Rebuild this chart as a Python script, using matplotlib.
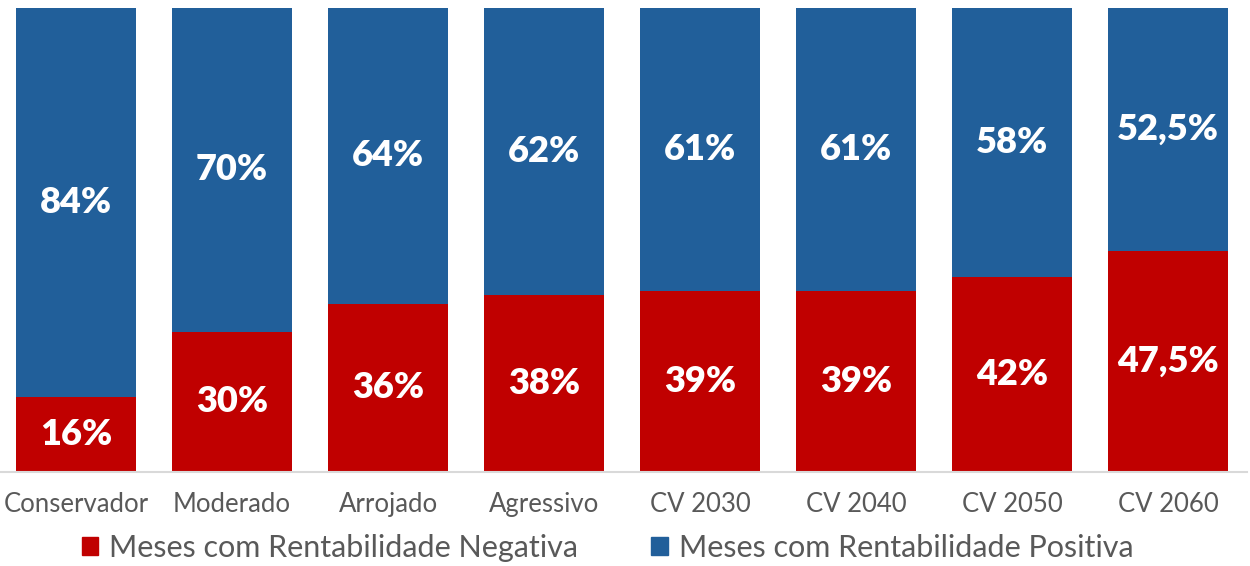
import matplotlib
matplotlib.use("Agg")
import matplotlib.pyplot as plt
from matplotlib.patches import Patch
import numpy as np

categories = ["Conservador", "Moderado", "Arrojado", "Agressivo", "CV 2030", "CV 2040", "CV 2050", "CV 2060"]
negativa = [16, 30, 36, 38, 39, 39, 42, 47.5]
positiva = [84, 70, 64, 62, 61, 61, 58, 52.5]
neg_labels = ["16%", "30%", "36%", "38%", "39%", "39%", "42%", "47,5%"]
pos_labels = ["84%", "70%", "64%", "62%", "61%", "61%", "58%", "52,5%"]
series_names = ["Meses com Rentabilidade Negativa", "Meses com Rentabilidade Positiva"]

RED = "#C00000"
BLUE = "#215F9A"
GRAY = "#595959"

plt.rcParams['font.family'] = ['Lato', 'DejaVu Sans']

fig = plt.figure(figsize=(12.5, 5.66), dpi=100)
W, H = 1250, 566
ax = fig.add_axes([0, (H - 471.5) / H, 1247 / W, (471.5 - 7.5) / H])

x = np.arange(len(categories))
width = 0.77
ax.bar(x, negativa, width, color=RED, label=series_names[0])
ax.bar(x, positiva, width, bottom=negativa, color=BLUE, label=series_names[1])

for i in range(len(categories)):
    ax.text(x[i], negativa[i] / 2, neg_labels[i], ha="center", va="center",
            color="white", fontsize=26, fontweight="heavy")
    ax.text(x[i], negativa[i] + positiva[i] / 2, pos_labels[i], ha="center", va="center",
            color="white", fontsize=26, fontweight="heavy")

ax.set_xlim(-0.487, 7.506)
ax.set_ylim(0, 100)
ax.set_yticks([])
ax.set_xticks(x)
ax.set_xticklabels(categories, fontsize=18.5, color=GRAY)
ax.tick_params(axis="x", length=0, pad=15)
for s in ["top", "right", "left"]:
    ax.spines[s].set_visible(False)
ax.spines["bottom"].set_color("#D9D9D9")
ax.spines["bottom"].set_linewidth(1.5)

handles = [Patch(color=RED), Patch(color=BLUE)]
fig.legend(handles, series_names, loc="center", bbox_to_anchor=(0.486, (H - 548) / H),
           ncol=2, frameon=False, fontsize=22, labelcolor=GRAY,
           handlelength=0.55, handleheight=0.55, handletextpad=0.35, columnspacing=2.4)

fig.savefig("out.png", dpi=100)
